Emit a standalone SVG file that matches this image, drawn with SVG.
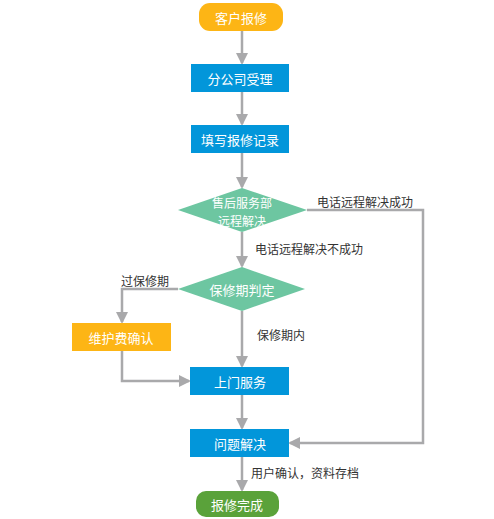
<svg xmlns="http://www.w3.org/2000/svg" width="494" height="519" viewBox="0 0 494 519">
<defs>
<marker id="ah" markerWidth="12" markerHeight="12" refX="10" refY="6" orient="auto" markerUnits="userSpaceOnUse">
<path d="M0,0 L12,6 L0,12 Z" fill="#A9A9AB"/>
</marker>
<style>
.t{font-family:"Noto Sans CJK SC","Noto Sans",sans-serif;font-size:13px;fill:#fff;text-anchor:middle;dominant-baseline:central}
.l{font-family:"Noto Sans CJK SC","Noto Sans",sans-serif;font-size:12px;fill:#333;dominant-baseline:central}
.c{fill:none;stroke:#A9A9AB;stroke-width:2.5}
.blue{fill:#0296DA}
.org{fill:#FDB515}
.dia{fill:#6DC6A1}
</style>
</defs>
<rect width="494" height="519" fill="#fff"/>
<g id="connectors">
<path class="c" d="M242,31 V63" marker-end="url(#ah)"/>
<path class="c" d="M242,92 V124" marker-end="url(#ah)"/>
<path class="c" d="M242,153 V187" marker-end="url(#ah)"/>
<path class="c" d="M242,232 V266" marker-end="url(#ah)"/>
<path class="c" d="M242,311 V366" marker-end="url(#ah)"/>
<path class="c" d="M242,395 V428" marker-end="url(#ah)"/>
<path class="c" d="M242,457 V490" marker-end="url(#ah)"/>
<path class="c" d="M307,210 H423 V443 H290" marker-end="url(#ah)"/>
<path class="c" d="M178,289 H122 V322" marker-end="url(#ah)"/>
<path class="c" d="M122,351 V381 H189" marker-end="url(#ah)"/>
<text class="l" x="317" y="201">电话远程解决成功</text>
<text class="l" x="255" y="248">电话远程解决不成功</text>
<text class="l" x="121" y="280">过保修期</text>
<text class="l" x="257" y="334">保修期内</text>
<text class="l" x="251" y="472">用户确认，资料存档</text>
</g>
<g id="start"><rect class="org" x="199" y="3" width="84" height="28" rx="11"/><text class="t" x="241" y="17">客户报修</text></g>
<g id="accept"><rect class="blue" x="191" y="64" width="98" height="28"/><text class="t" x="240" y="78">分公司受理</text></g>
<g id="record"><rect class="blue" x="191" y="125" width="98" height="28"/><text class="t" x="240" y="139">填写报修记录</text></g>
<g id="remote"><polygon class="dia" points="242,188 307,210 242,232 178,210"/><text class="t" x="242" y="202" style="font-size:12px">售后服务部</text><text class="t" x="242" y="220" style="font-size:12px">远程解决</text></g>
<g id="warranty"><polygon class="dia" points="242,267 305,289 242,311 178,289"/><text class="t" x="242" y="289">保修期判定</text></g>
<g id="fee"><rect class="org" x="72" y="323" width="99" height="28"/><text class="t" x="121" y="337">维护费确认</text></g>
<g id="onsite"><rect class="blue" x="190" y="367" width="99" height="28"/><text class="t" x="240" y="381">上门服务</text></g>
<g id="solve"><rect class="blue" x="190" y="429" width="99" height="28"/><text class="t" x="240" y="443">问题解决</text></g>
<g id="end"><rect x="196" y="491" width="83" height="26" rx="10" fill="#5AA23A"/><text class="t" x="237" y="504">报修完成</text></g>
</svg>
